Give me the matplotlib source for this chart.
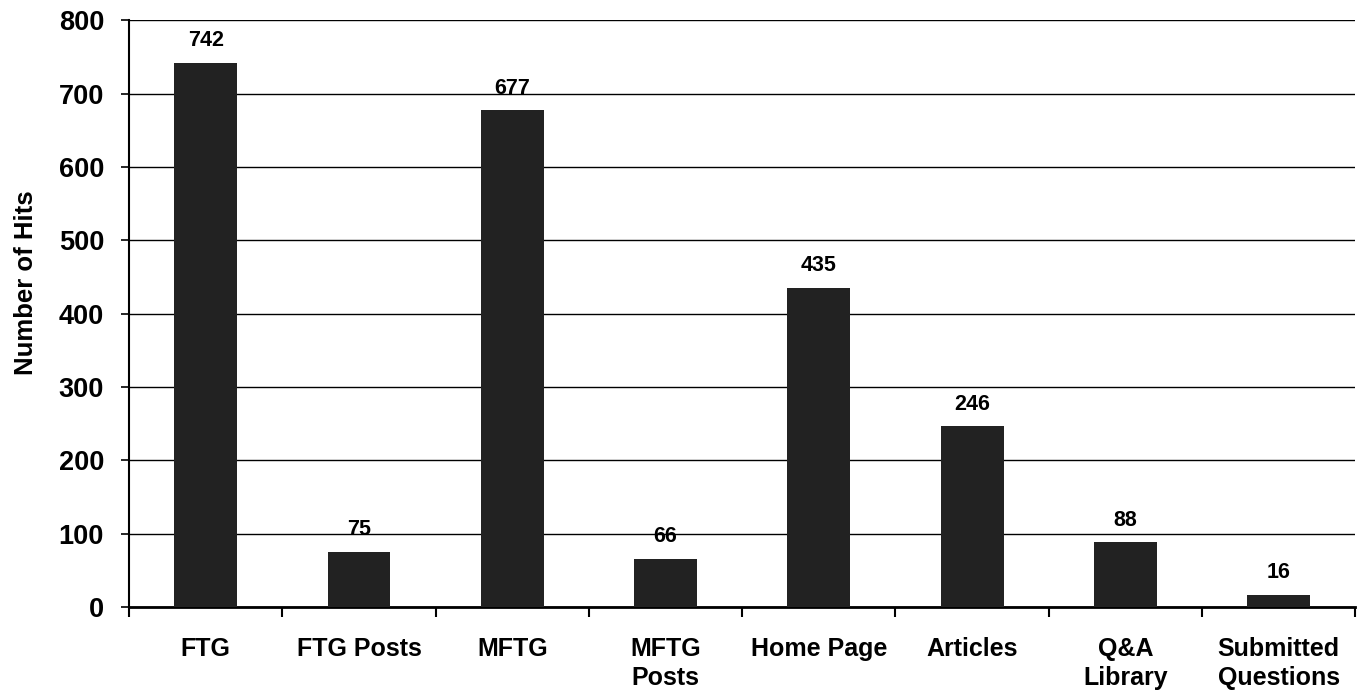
import matplotlib.pyplot as plt
import numpy as np

categories = ['FTG', 'FTG Posts', 'MFTG', 'MFTG\nPosts', 'Home Page',
              'Articles', 'Q&A\nLibrary', 'Submitted\nQuestions']
hits = [742, 75, 677, 66, 435, 246, 88, 16]
yticks = [0, 100, 200, 300, 400, 500, 600, 700, 800]

plt.rcParams['font.family'] = ['Liberation Sans', 'DejaVu Sans']
plt.rcParams['font.weight'] = 'bold'


def main():
    fig = plt.figure(figsize=(13.61, 6.96), dpi=100)
    ax = fig.add_axes([0.0948, 0.128, 0.901, 0.843])

    x = np.arange(len(categories))
    ax.bar(x, hits, width=0.41, color='#222222', zorder=3)
    for xi, v in zip(x, hits):
        ax.text(xi, v + 16, str(v), ha='center', va='bottom',
                fontsize=15.5, fontweight='bold')

    ax.set_xlim(-0.5, len(categories) - 0.5)
    ax.set_ylim(0, 800)
    ax.set_yticks(yticks)
    ax.set_yticklabels([str(t) for t in yticks], fontsize=19.5, fontweight='bold')
    ax.yaxis.grid(True, color='black', linewidth=1.0, zorder=0)

    # category labels centred, ticks on the boundaries
    ax.set_xticks(np.arange(len(categories) + 1) - 0.5)
    ax.set_xticklabels([])
    ax.set_xticks(x, minor=True)
    ax.set_xticklabels(categories, minor=True, fontsize=18, fontweight='bold',
                       linespacing=1.25, va='top')
    ax.tick_params(axis='x', which='minor', length=0, pad=22)
    ax.tick_params(axis='x', which='major', length=7, width=1.5, direction='out')
    ax.tick_params(axis='y', length=6, width=1.2, pad=12)

    ax.set_ylabel('Number of Hits', fontsize=18.5, fontweight='bold')
    ax.yaxis.set_label_coords(-0.074, 0.552)

    for side in ['top', 'right']:
        ax.spines[side].set_visible(False)
    ax.spines['left'].set_linewidth(1.5)
    ax.spines['bottom'].set_linewidth(2)

    fig.savefig('out.png', dpi=100)


if __name__ == '__main__':
    main()
